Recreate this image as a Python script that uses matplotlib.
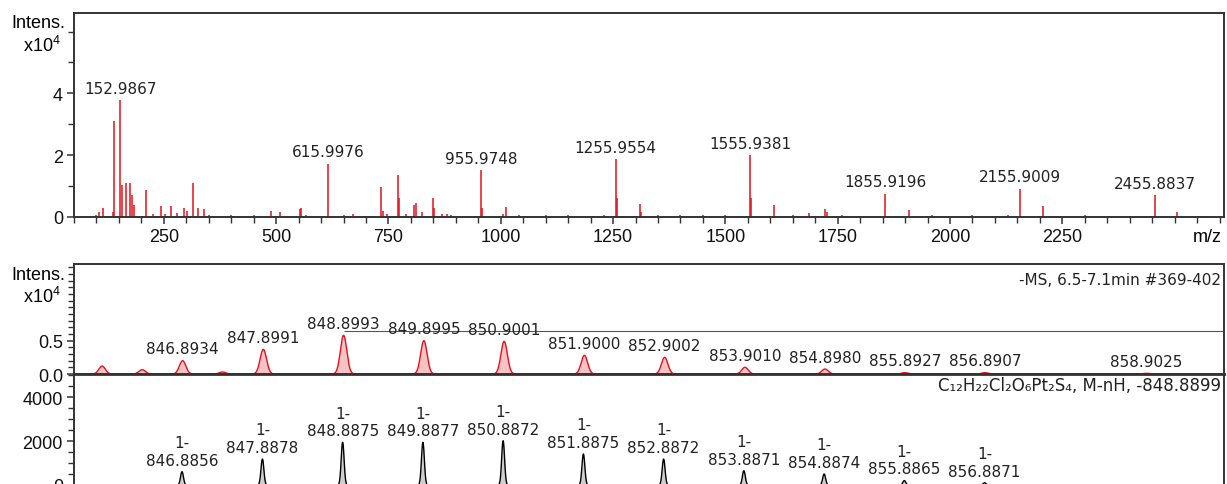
import matplotlib.pyplot as plt
import numpy as np
from matplotlib.ticker import MultipleLocator, FixedLocator

plt.rcParams['font.family'] = ['Liberation Sans', 'DejaVu Sans']
plt.rcParams['mathtext.default'] = 'regular'

# full scan spectrum (m/z, intensity x10^4)
full_mz = [100, 106, 113.5, 137, 139.4, 152.9867, 157, 165, 174, 180, 182.5,
           209.5, 226, 243, 252, 265, 280, 294, 302, 316, 325, 338.5, 351,
           400, 450, 488, 508, 552, 556, 566, 615.9976, 650, 672,
           734, 738, 746, 770.6, 774, 790, 807.5, 812, 825, 848.9, 852,
           870, 880, 890, 955.9748, 958, 1005, 1012, 1040, 1100, 1150,
           1230, 1255.9554, 1258, 1310, 1313, 1350, 1400, 1450, 1500,
           1555.9381, 1558, 1609, 1650, 1686, 1722, 1726, 1760,
           1855.9196, 1908, 1960, 2050, 2130, 2155.9009, 2206, 2300,
           2400, 2455.8837, 2505, 2560]
full_int = [0.08, 0.15, 0.28, 0.15, 3.1, 3.78, 1.03, 1.1, 1.1, 0.71, 0.4,
            0.87, 0.1, 0.37, 0.1, 0.36, 0.12, 0.3, 0.2, 1.1, 0.28, 0.26, 0.08,
            0.05, 0.05, 0.2, 0.15, 0.25, 0.28, 0.08, 1.73, 0.05, 0.1,
            0.98, 0.2, 0.1, 1.35, 0.6, 0.1, 0.39, 0.45, 0.15, 0.6, 0.3,
            0.1, 0.1, 0.08, 1.53, 0.3, 0.1, 0.33, 0.07, 0.05, 0.05,
            0.08, 1.87, 0.6, 0.41, 0.15, 0.06, 0.05, 0.05, 0.06,
            2.0, 0.6, 0.39, 0.05, 0.12, 0.25, 0.15, 0.06,
            0.76, 0.24, 0.05, 0.05, 0.08, 0.92, 0.34, 0.05,
            0.04, 0.71, 0.17, 0.04]
full_labels = [152.9867, 615.9976, 955.9748, 1255.9554, 1555.9381,
               1855.9196, 2155.9009, 2455.8837]

# measured isotope pattern (x10^4)
ms_mz = [845.89, 846.39, 846.8934, 847.39, 847.8991, 848.8993, 849.8995,
         850.9001, 851.9000, 852.9002, 853.9010, 854.8980, 855.8927,
         856.8907, 858.9025]
ms_int = [0.12, 0.065, 0.20, 0.03, 0.37, 0.58, 0.50, 0.49, 0.28, 0.25,
          0.10, 0.075, 0.02, 0.02, 0.01]
ms_labels = [846.8934, 847.8991, 848.8993, 849.8995, 850.9001, 851.9000,
             852.9002, 853.9010, 854.8980, 855.8927, 856.8907, 858.9025]
ms_line_level = 0.65

# simulated pattern for C12H22Cl2O6Pt2S4
sim_mz = [846.8856, 847.8878, 848.8875, 849.8877, 850.8872, 851.8875,
          852.8872, 853.8871, 854.8874, 855.8865, 856.8871]
sim_int = [605, 1180, 1940, 1940, 2015, 1410, 1180, 650, 500, 200, 100]

RED = '#e3101c'
GREY = '#333333'
LABEL_FONT = dict(family='DejaVu Sans', fontsize=11, color='#222222')

fig = plt.figure(figsize=(12.27, 4.85), dpi=100)
ax1 = fig.add_axes([74/1227, 1 - 218/485, 1150/1227, 204/485])
ax2 = fig.add_axes([74/1227, 1 - 375/485, 1150/1227, 110/485])
ax3 = fig.add_axes([74/1227, -1/485, 1150/1227, 111/485])

# --- full spectrum ---
ax1.vlines(full_mz, 0, full_int, color=RED, lw=1.1)
for m in full_labels:
    h = full_int[full_mz.index(m)]
    ax1.annotate(f'{m:.4f}', (m, h), xytext=(0, 3), textcoords='offset points',
                 ha='center', va='bottom', **LABEL_FONT)
ax1.set_xlim(50, 2610)
ax1.set_ylim(0, 6.6)
ax1.xaxis.set_major_locator(FixedLocator([250, 500, 750, 1000, 1250, 1500,
                                          1750, 2000, 2250]))
ax1.xaxis.set_minor_locator(MultipleLocator(50))
ax1.yaxis.set_major_locator(FixedLocator([0, 2, 4]))
ax1.yaxis.set_minor_locator(MultipleLocator(1))
fig.text(1207 / 1227, 1 - 237 / 485, 'm/z', ha='center', va='center', fontsize=13)
fig.text(38 / 1227, 1 - 24 / 485, 'Intens.', ha='center', va='center', fontsize=13)
fig.text(42 / 1227, 1 - 46 / 485, 'x10$^4$', ha='center', va='center', fontsize=13)


def peak_profile(ax, mz, inten, sigma, line, fill, lw):
    x = np.linspace(ax.get_xlim()[0], ax.get_xlim()[1], 6000)
    for m, h in zip(mz, inten):
        sel = np.abs(x - m) < 4 * sigma
        xs = x[sel]
        ys = h * np.exp(-0.5 * ((xs - m) / sigma) ** 2)
        ax.fill_between(xs, 0, ys, color=fill, lw=0)
        ax.plot(xs, ys, color=line, lw=lw)


# --- measured isotope pattern ---
ax2.set_xlim(845.54, 859.87)
ax2.set_ylim(0, 1.65)
peak_profile(ax2, ms_mz, ms_int, 0.04, RED, '#f6c3c5', 1.0)
ax2.hlines(ms_line_level, 848.8993, 859.87, color='#555555', lw=0.8)
for m in ms_labels:
    h = ms_int[ms_mz.index(m)]
    ax2.annotate(f'{m:.4f}', (m, h), xytext=(0, 3), textcoords='offset points',
                 ha='center', va='bottom', **LABEL_FONT)
ax2.yaxis.set_major_locator(FixedLocator([0, 0.5]))
ax2.yaxis.set_minor_locator(MultipleLocator(0.1))
ax2.yaxis.set_major_formatter(lambda v, p: f'{v:.1f}')
ax2.set_xticks([])
ax2.text(0.997, 0.86, '-MS, 6.5-7.1min #369-402', transform=ax2.transAxes,
         ha='right', va='center', family='DejaVu Sans', fontsize=11,
         color='#222222')
fig.text(38 / 1227, 1 - 275 / 485, 'Intens.', ha='center', va='center', fontsize=13)
fig.text(42 / 1227, 1 - 297 / 485, 'x10$^4$', ha='center', va='center', fontsize=13)

# --- simulated isotope pattern ---
ax3.set_xlim(845.54, 859.87)
ax3.set_ylim(0, 5050)
peak_profile(ax3, sim_mz, sim_int, 0.018, 'black', '#cfcfcf', 1.0)
for m, h in zip(sim_mz, sim_int):
    ax3.annotate(f'1-\n{m:.4f}', (m, h), xytext=(0, 3), textcoords='offset points',
                 ha='center', va='bottom', multialignment='center',
                 linespacing=1.2, **LABEL_FONT)
ax3.yaxis.set_major_locator(FixedLocator([0, 2000, 4000]))
ax3.yaxis.set_minor_locator(MultipleLocator(500))
ax3.set_xticks([])
ax3.text(0.997, 0.9, 'C₁₂H₂₂Cl₂O₆Pt₂S₄, M-nH, -848.8899', transform=ax3.transAxes,
         ha='right', va='center', family='DejaVu Sans', fontsize=12,
         color='#222222')

for ax in (ax1, ax2, ax3):
    for s in ax.spines.values():
        s.set_color(GREY)
        s.set_linewidth(1.4)
    ax.tick_params(which='both', direction='out', color=GREY, labelsize=13,
                   labelcolor='#111111')
    ax.tick_params(which='major', length=5, width=1.1, pad=3)
    ax.tick_params(which='minor', length=4, width=1.0)
ax2.spines['bottom'].set_linewidth(2)
ax3.spines['top'].set_linewidth(2)

fig.savefig('out.png', dpi=100)
